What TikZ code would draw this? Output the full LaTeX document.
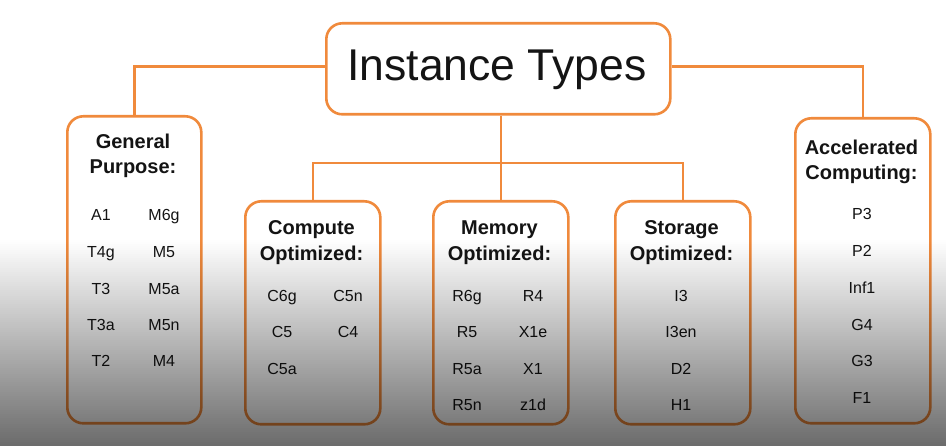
\documentclass[tikz,border=0pt]{standalone}
\usepackage{fontspec}
\setmainfont{Liberation Sans}
\definecolor{orng}{RGB}{240,138,60}
\definecolor{ink}{RGB}{20,20,20}
\begin{document}
\begin{tikzpicture}[x=1pt,y=-1pt,
  box/.style={draw=orng, line width=2.6pt, rounded corners=16pt, inner sep=0pt, anchor=north west},
  conn/.style={draw=orng, line width=2.6pt},
  head/.style={anchor=base, inner sep=0pt, text=ink, font=\fontsize{20}{24}\selectfont\bfseries},
  item/.style={anchor=base, inner sep=0pt, text=ink, font=\fontsize{16}{19}\selectfont}]
\useasboundingbox (0,0) rectangle (946,446);
\fill[white] (0,0) rectangle (946,446);

% boxes
\node[box, minimum width=344pt, minimum height=91pt] (top) at (325,22) {};
\node[box, minimum width=134pt, minimum height=307pt] (gp) at (66,115) {};
\node[box, minimum width=135pt, minimum height=223pt] (co) at (244,200) {};
\node[box, minimum width=135pt, minimum height=223pt] (me) at (432,200) {};
\node[box, minimum width=135pt, minimum height=223pt] (st) at (614,200) {};
\node[box, minimum width=135pt, minimum height=305pt] (ac) at (794,117) {};

% connectors
\coordinate (bus) at (500,163);
\draw[conn] ([yshift=2.5pt]top.west) -| (gp.north);
\draw[conn] ([yshift=2.5pt]top.east) -| (ac.north);
\draw[conn] (me.north |- top.south) -- (me.north);
\draw[conn] (co.north) |- (bus) -| (st.north);

% title
\node[anchor=base, inner sep=0pt, text=ink, font=\fontsize{44.5}{50}\selectfont] (title) at (497,81) {Instance Types};

% headings
\node[head] (gph1) at (133,149) {General};
\node[head] (gph2) at (133,174) {Purpose:};
\node[head] (coh1) at (311.5,235) {Compute};
\node[head] (coh2) at (311.5,261) {Optimized:};
\node[head] (meh1) at (499.5,235) {Memory};
\node[head] (meh2) at (499.5,261) {Optimized:};
\node[head] (sth1) at (681.5,235) {Storage};
\node[head] (sth2) at (681.5,261) {Optimized:};
\node[head] (ach1) at (861.5,155) {Accelerated};
\node[head] (ach2) at (861.5,180) {Computing:};

% general purpose items
\node[item] (gpa1) at (101,221) {A1};
\node[item] (gpb1) at (164,221) {M6g};
\node[item] (gpa2) at (101,258) {T4g};
\node[item] (gpb2) at (164,258) {M5};
\node[item] (gpa3) at (101,295) {T3};
\node[item] (gpb3) at (164,295) {M5a};
\node[item] (gpa4) at (101,331) {T3a};
\node[item] (gpb4) at (164,331) {M5n};
\node[item] (gpa5) at (101,367) {T2};
\node[item] (gpb5) at (164,367) {M4};

% compute items
\node[item] (coa1) at (282,302) {C6g};
\node[item] (cob1) at (348,302) {C5n};
\node[item] (coa2) at (282,338) {C5};
\node[item] (cob2) at (348,338) {C4};
\node[item] (coa3) at (282,375) {C5a};

% memory items
\node[item] (mea1) at (467,302) {R6g};
\node[item] (meb1) at (533,302) {R4};
\node[item] (mea2) at (467,338) {R5};
\node[item] (meb2) at (533,338) {X1e};
\node[item] (mea3) at (467,375) {R5a};
\node[item] (meb3) at (533,375) {X1};
\node[item] (mea4) at (467,411) {R5n};
\node[item] (meb4) at (533,411) {z1d};

% storage items
\node[item] (sta1) at (681,302) {I3};
\node[item] (sta2) at (681,338) {I3en};
\node[item] (sta3) at (681,375) {D2};
\node[item] (sta4) at (681,411) {H1};

% accelerated items
\node[item] (aca1) at (862,220) {P3};
\node[item] (aca2) at (862,257) {P2};
\node[item] (aca3) at (862,294) {Inf1};
\node[item] (aca4) at (862,331) {G4};
\node[item] (aca5) at (862,367) {G3};
\node[item] (aca6) at (862,404) {F1};

% darkening gradient overlay
\foreach \i [evaluate=\i as \op using 0.58*(\i+0.5)/103] in {0,...,102} {
  \fill[black, fill opacity=\op] (0,{240+2*\i}) rectangle (946,{242+2*\i});
}
\end{tikzpicture}
\end{document}
